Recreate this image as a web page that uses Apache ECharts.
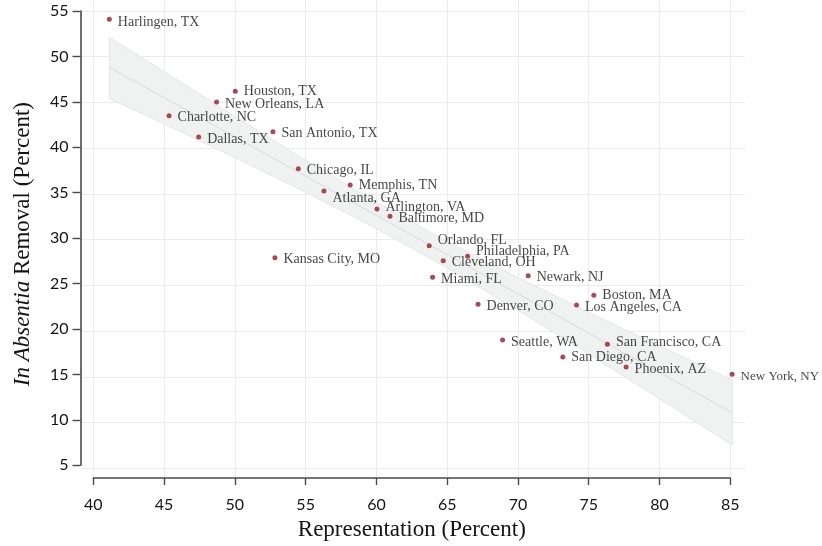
<!DOCTYPE html>
<html>
<head>
<meta charset="utf-8">
<script src="https://cdn.jsdelivr.net/npm/echarts@6/dist/echarts.min.js"></script>
<style>
  html, body { margin: 0; padding: 0; background: #ffffff; }
  #chart { width: 822px; height: 546px; }
</style>
</head>
<body>
<div id="chart"></div>
<script>
// City-level share of respondents with representation vs. in absentia removal rate
const cities = [
  'Harlingen, TX', 'Houston, TX', 'New Orleans, LA', 'Charlotte, NC', 'Dallas, TX',
  'San Antonio, TX', 'Chicago, IL', 'Memphis, TN', 'Atlanta, GA', 'Arlington, VA',
  'Baltimore, MD', 'Kansas City, MO', 'Orlando, FL', 'Philadelphia, PA', 'Cleveland, OH',
  'Miami, FL', 'Newark, NJ', 'Boston, MA', 'Denver, CO', 'Los Angeles, CA',
  'Seattle, WA', 'San Francisco, CA', 'San Diego, CA', 'Phoenix, AZ', 'New York, NY'
];
const representation = [
  41.13, 50.03, 48.71, 45.35, 47.44,
  52.69, 54.48, 58.15, 56.29, 60.04,
  60.96, 52.83, 63.73, 66.44, 64.72,
  63.97, 70.72, 75.36, 67.18, 74.14,
  68.91, 76.32, 73.17, 77.64, 85.13
];
const inAbsentiaRemoval = [
  54.09, 46.22, 45.05, 43.55, 41.22,
  41.80, 37.76, 35.98, 35.32, 33.35,
  32.55, 28.03, 29.34, 28.18, 27.70,
  25.88, 26.06, 23.91, 22.93, 22.85,
  19.03, 18.56, 17.17, 16.08, 15.28
];

// Linear fit and its confidence band
const fitX = [41.13, 85.14];
const fitY = [48.84, 11.08];
const bandX     = [41.13, 45,    50,    55,    60,    65,    70,    75,    80,    85.14];
const bandUpper = [52.12, 48.38, 43.49, 38.69, 34.09, 29.81, 25.85, 22.07, 18.38, 14.65];
const bandLower = [45.41, 42.67, 38.97, 35.19, 31.21, 26.91, 22.29, 17.49, 12.60, 7.55];

// Tick values
const xTicks = [40, 45, 50, 55, 60, 65, 70, 75, 80, 85];
const yTicks = [5, 10, 15, 20, 25, 30, 35, 40, 45, 50, 55];

// Vertical nudges (px) for labels that would otherwise collide
const labelNudge = {
  'Harlingen, TX': 3, 'Houston, TX': 0, 'Memphis, TN': 0, 'Atlanta, GA': 7,
  'Arlington, VA': -2, 'Orlando, FL': -5, 'Philadelphia, PA': -5,
  'Boston, MA': 0, 'San Francisco, CA': -2, 'San Diego, CA': 0
};
const defaultNudge = 2;
// The right-most label sits against the canvas edge, so it is set a touch smaller
const labelSize = { 'New York, NY': 13 };
const defaultLabelSize = 14;

const serif = 'Liberation Serif';
const sans = 'Lato';
const ink = '#141414';
const axisInk = '#4a4a4a';

const chart = echarts.init(document.getElementById('chart'), null, { renderer: 'canvas' });

const pointData = cities.map((name, i) => ({
  name: name,
  value: [representation[i], inAbsentiaRemoval[i]],
  label: { fontSize: labelSize[name] || defaultLabelSize }
}));

const option = {
  backgroundColor: '#ffffff',
  animation: false,
  grid: [
    // plotting area, slightly wider than the tick range
    { left: 82, right: 77, top: 0, bottom: 69, containLabel: false },
    // frame for the visible axes, spanning exactly the tick range
    { left: 93.3, right: 91.7, top: 11, bottom: 77.7, containLabel: false }
  ],
  xAxis: [
    {
      gridIndex: 0, type: 'value', min: 39.2, max: 86.04,
      axisLine: { show: false },
      axisTick: { show: false, customValues: xTicks },
      axisLabel: { show: false, customValues: xTicks },
      splitLine: { show: true, lineStyle: { color: '#ebebeb', width: 1 } }
    },
    {
      gridIndex: 1, type: 'value', min: 40, max: 85, interval: 5,
      offset: 12.7,
      axisLine: { show: true, onZero: false, lineStyle: { color: axisInk, width: 1.6 } },
      axisTick: { show: true, length: 7, lineStyle: { color: axisInk, width: 1.4 } },
      axisLabel: { fontFamily: sans, fontSize: 16, color: ink, margin: 19 },
      splitLine: { show: false },
      name: 'Representation (Percent)',
      nameLocation: 'middle',
      nameGap: 40,
      nameTextStyle: { fontFamily: serif, fontSize: 23, color: ink }
    }
  ],
  yAxis: [
    {
      gridIndex: 0, type: 'value', min: 4.05, max: 56.2,
      axisLine: { show: false },
      axisTick: { show: false, customValues: yTicks },
      axisLabel: { show: false, customValues: yTicks },
      splitLine: { show: true, lineStyle: { color: '#ebebeb', width: 1 } }
    },
    {
      gridIndex: 1, type: 'value', min: 5, max: 55, interval: 5,
      offset: 12.8,
      axisLine: { show: true, onZero: false, lineStyle: { color: axisInk, width: 1.6 } },
      axisTick: { show: true, length: 8, lineStyle: { color: axisInk, width: 1.4 } },
      axisLabel: { fontFamily: sans, fontSize: 16, color: ink, margin: 12 },
      splitLine: { show: false },
      name: '{i|In Absentia} Removal (Percent)',
      nameLocation: 'middle',
      nameRotate: 90,
      nameGap: 46,
      nameTextStyle: {
        fontFamily: serif, fontSize: 23, color: ink,
        padding: [0, 12, 0, 0],
        rich: { i: { fontFamily: serif, fontSize: 23, fontStyle: 'italic', color: ink } }
      }
    }
  ],
  series: [
    {
      name: 'band',
      type: 'custom',
      xAxisIndex: 0, yAxisIndex: 0,
      silent: true,
      z: 1,
      data: bandX.map((x, i) => [x, bandLower[i], bandUpper[i]]),
      encode: { x: 0, y: [1, 2] },
      renderItem: function (params, api) {
        if (params.dataIndex !== 0) return null;
        const pts = bandX.map((x, i) => api.coord([x, bandUpper[i]]));
        for (let i = bandX.length - 1; i >= 0; i--) {
          pts.push(api.coord([bandX[i], bandLower[i]]));
        }
        return {
          type: 'polygon',
          shape: { points: pts },
          style: { fill: '#f0f2f2', stroke: '#dfe2e2', lineWidth: 0.8 }
        };
      }
    },
    {
      name: 'fit',
      type: 'line',
      xAxisIndex: 0, yAxisIndex: 0,
      silent: true,
      z: 2,
      symbol: 'none',
      data: fitX.map((x, i) => [x, fitY[i]]),
      lineStyle: { color: '#d9dcdc', width: 1 }
    },
    {
      name: 'cities',
      type: 'scatter',
      xAxisIndex: 0, yAxisIndex: 0,
      z: 5,
      symbol: 'circle',
      symbolSize: 5,
      itemStyle: { color: '#921d2c' },
      data: pointData,
      label: {
        show: true,
        position: 'right',
        distance: 6,
        formatter: '{b}',
        fontFamily: serif,
        fontSize: defaultLabelSize,
        color: ink
      },
      labelLayout: function (params) {
        const name = cities[params.dataIndex];
        const dy = labelNudge[name] !== undefined ? labelNudge[name] : defaultNudge;
        return { dy: dy, hideOverlap: false };
      }
    }
  ]
};

chart.setOption(option);
</script>
</body>
</html>
